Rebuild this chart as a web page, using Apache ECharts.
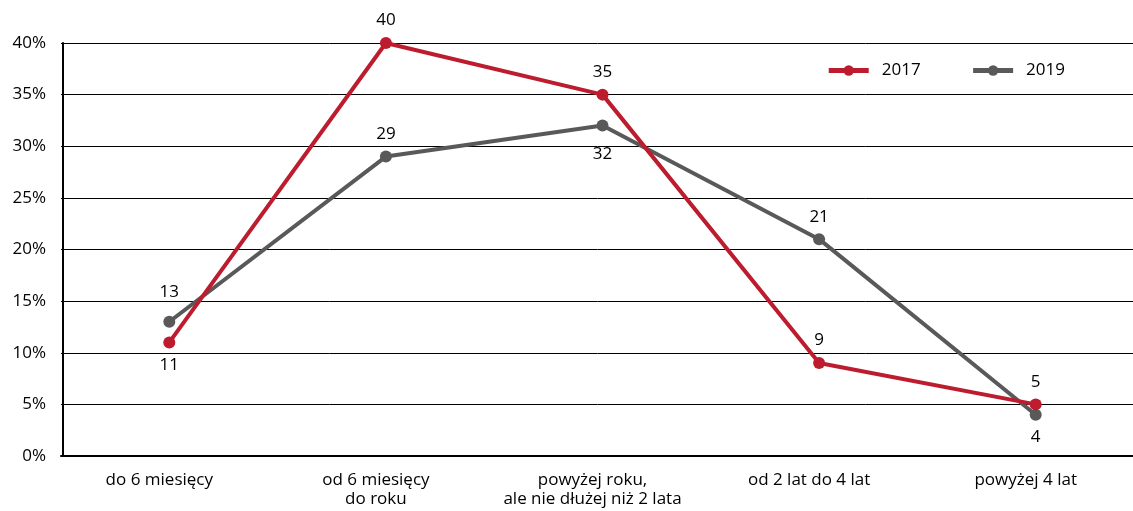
<!DOCTYPE html>
<html><head><meta charset="utf-8">
<script src="https://cdn.jsdelivr.net/npm/echarts@6/dist/echarts.min.js"></script>
<style>html,body{margin:0;padding:0;background:#fff}#c{width:1133px;height:511px}</style>
</head><body><div id="c"></div>
<script>
const categories = ['do 6 miesięcy', 'od 6 miesięcy\ndo roku', 'powyżej roku,\nale nie dłużej niż 2 lata', 'od 2 lat do 4 lat', 'powyżej 4 lat'];
const values2017 = [11, 40, 35, 9, 5];
const values2019 = [13, 29, 32, 21, 4];
const labelPos2017 = ['bottom', 'top', 'top', 'top', 'top'];
const labelPos2019 = ['top', 'top', 'bottom', 'top', 'bottom'];
const labelDist2017 = [8, 8, 8, 8, 8];
const labelDist2019 = [15, 8, 14, 8, 8];
const yTicks = [0, 5, 10, 15, 20, 25, 30, 35, 40];

const FONT = 'Open Sans';
const FS = 17;
const chart = echarts.init(document.getElementById('c'));
function mk(vals, pos, dist) {
  return vals.map((v, i) => ({ value: v, label: { position: pos[i], distance: dist[i] } }));
}
chart.setOption({
  animation: false,
  textStyle: { fontFamily: FONT },
  grid: { left: 61, width: 1083, top: 43, bottom: 55, containLabel: false, outerBoundsMode: 'none' },
  legend: {
    top: 57, right: 63, itemGap: 50, itemWidth: 40, itemHeight: 13,
    lineStyle: { width: 5 },
    textStyle: { fontSize: FS, color: '#000', fontFamily: FONT, padding: [0, 0, 0, 8] },
    data: ['2017', '2019']
  },
  xAxis: {
    type: 'category', data: categories, boundaryGap: true,
    axisLine: { lineStyle: { color: '#000', width: 2 } },
    axisTick: { show: false },
    axisLabel: { color: '#000', fontSize: FS, margin: 15, lineHeight: 19, fontFamily: FONT,
      interval: 0, hideOverlap: false, padding: [0, 20, 0, 0] }
  },
  yAxis: {
    type: 'value', min: 0, max: 40, interval: 5, offset: -2,
    axisLine: { show: true, lineStyle: { color: '#000', width: 2 } },
    axisTick: { show: false },
    splitLine: { lineStyle: { color: '#000', width: 1 } },
    axisLabel: { color: '#000', fontSize: FS, margin: 17, fontFamily: FONT,
      formatter: v => yTicks.includes(v) ? v + '%' : '' }
  },
  series: [
    { name: '2017', type: 'line', data: mk(values2017, labelPos2017, labelDist2017),
      symbol: 'circle', symbolSize: 12,
      lineStyle: { color: '#bc1c2e', width: 4 }, itemStyle: { color: '#bc1c2e' },
      label: { show: true, color: '#000', fontSize: FS, fontFamily: FONT },
      z: 3 },
    { name: '2019', type: 'line', data: mk(values2019, labelPos2019, labelDist2019),
      symbol: 'circle', symbolSize: 12,
      lineStyle: { color: '#595959', width: 4 }, itemStyle: { color: '#595959' },
      label: { show: true, color: '#000', fontSize: FS, fontFamily: FONT },
      z: 2 }
  ]
});
</script></body></html>
